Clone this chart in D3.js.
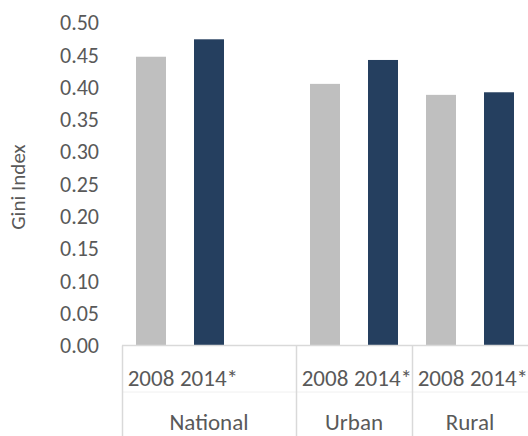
<!DOCTYPE html>
<html>
<head>
<meta charset="utf-8">
<script src="https://cdn.jsdelivr.net/npm/d3@7"></script>
<style>
  body { margin: 0; background: #fff; }
  svg text { font-family: Carlito, Calibri, Lato, sans-serif; fill: #595959; }
</style>
</head>
<body>
<svg id="stage" width="528" height="436"></svg>
<script>
var svg = d3.select("#stage");

// data
var groups = ["National", "Urban", "Rural"];
var years = ["2008", "2014*"];
// National has an extra blank slot in the source sheet
var slotsPerGroup = [3, 2, 2];
var gini2008 = [0.447, 0.405, 0.388];
var gini2014 = [0.474, 0.442, 0.392];
var yTicks = [0, 0.05, 0.10, 0.15, 0.20, 0.25, 0.30, 0.35, 0.40, 0.45, 0.50];

var colors = { "2008": "#bfbfbf", "2014*": "#253f5f" };

////////////////////////////// SLOTS
var slots = [];
groups.forEach(function(g, gi){
  for (var k = 0; k < slotsPerGroup[gi]; k++) {
    var yr = years[k] || "";
    var val = yr === "2008" ? gini2008[gi] : (yr === "2014*" ? gini2014[gi] : null);
    slots.push({ group: g, year: yr, value: val, id: slots.length });
  }
});

var plotLeft = 122, plotRight = 528, plotTop = 22.5, plotBottom = 345.5;

var x = d3.scaleBand()
  .domain(slots.map(function(d){ return d.id; }))
  .range([plotLeft, plotRight])
  .paddingInner(0.483)
  .paddingOuter(0.2415);

var y = d3.scaleLinear().domain([0, 0.5]).range([plotBottom, plotTop]);

// y tick labels
svg.append("g")
  .selectAll("text")
  .data(yTicks)
  .enter().append("text")
    .attr("x", 99)
    .attr("y", function(d){ return y(d); })
    .attr("dy", "0.35em")
    .attr("text-anchor", "end")
    .style("font-size", "22px")
    .text(function(d){ return d3.format(".2f")(d); });

// axis title
svg.append("text")
  .attr("transform", "translate(25," + ((plotTop + plotBottom) / 2 + 3) + ") rotate(-90)")
  .attr("text-anchor", "middle")
  .style("font-size", "21px")
  .text("Gini Index");

// bars
svg.append("g")
  .selectAll("rect")
  .data(slots.filter(function(d){ return d.value !== null; }))
  .enter().append("rect")
    .attr("x", function(d){ return x(d.id); })
    .attr("width", x.bandwidth())
    .attr("y", function(d){ return y(d.value); })
    .attr("height", function(d){ return y(0) - y(d.value); })
    .attr("fill", function(d){ return colors[d.year]; });

// category axis
var step = x.step();
var axisG = svg.append("g");

// faint line between the two label rows
axisG.append("line")
  .attr("x1", plotLeft).attr("x2", plotRight)
  .attr("y1", 392).attr("y2", 392)
  .attr("stroke", "#f0f0f0").attr("stroke-width", 1);

axisG.append("line")
  .attr("x1", plotLeft).attr("x2", plotRight)
  .attr("y1", plotBottom).attr("y2", plotBottom)
  .attr("stroke", "#d9d9d9").attr("stroke-width", 1.5);

// group boundaries
var bounds = [];
var acc = 0;
groups.forEach(function(g, gi){
  var start = slots[acc].id;
  var end = slots[acc + slotsPerGroup[gi] - 1].id;
  bounds.push({ group: g,
                x0: x(start) - step * x.paddingInner() / 2,
                x1: x(end) + x.bandwidth() + step * x.paddingInner() / 2 });
  acc += slotsPerGroup[gi];
});

axisG.selectAll(".sep")
  .data(bounds)
  .enter().append("line")
    .attr("class", "sep")
    .attr("x1", function(d){ return Math.round(d.x0) + 0.5; })
    .attr("x2", function(d){ return Math.round(d.x0) + 0.5; })
    .attr("y1", plotBottom).attr("y2", 436)
    .attr("stroke", "#d9d9d9").attr("stroke-width", 1.5);

// year labels
axisG.selectAll(".yr")
  .data(slots.filter(function(d){ return d.year !== ""; }))
  .enter().append("text")
    .attr("class", "yr")
    .attr("x", function(d){ return x(d.id) + x.bandwidth() / 2; })
    .attr("y", 378)
    .attr("dy", "0.35em")
    .attr("text-anchor", "middle")
    .style("font-size", "23px")
    .text(function(d){ return d.year; });

// group labels
axisG.selectAll(".grp")
  .data(bounds)
  .enter().append("text")
    .attr("class", "grp")
    .attr("x", function(d){ return (d.x0 + d.x1) / 2; })
    .attr("y", 422)
    .attr("dy", "0.35em")
    .attr("text-anchor", "middle")
    .style("font-size", "23px")
    .text(function(d){ return d.group; });
</script>
</body>
</html>
